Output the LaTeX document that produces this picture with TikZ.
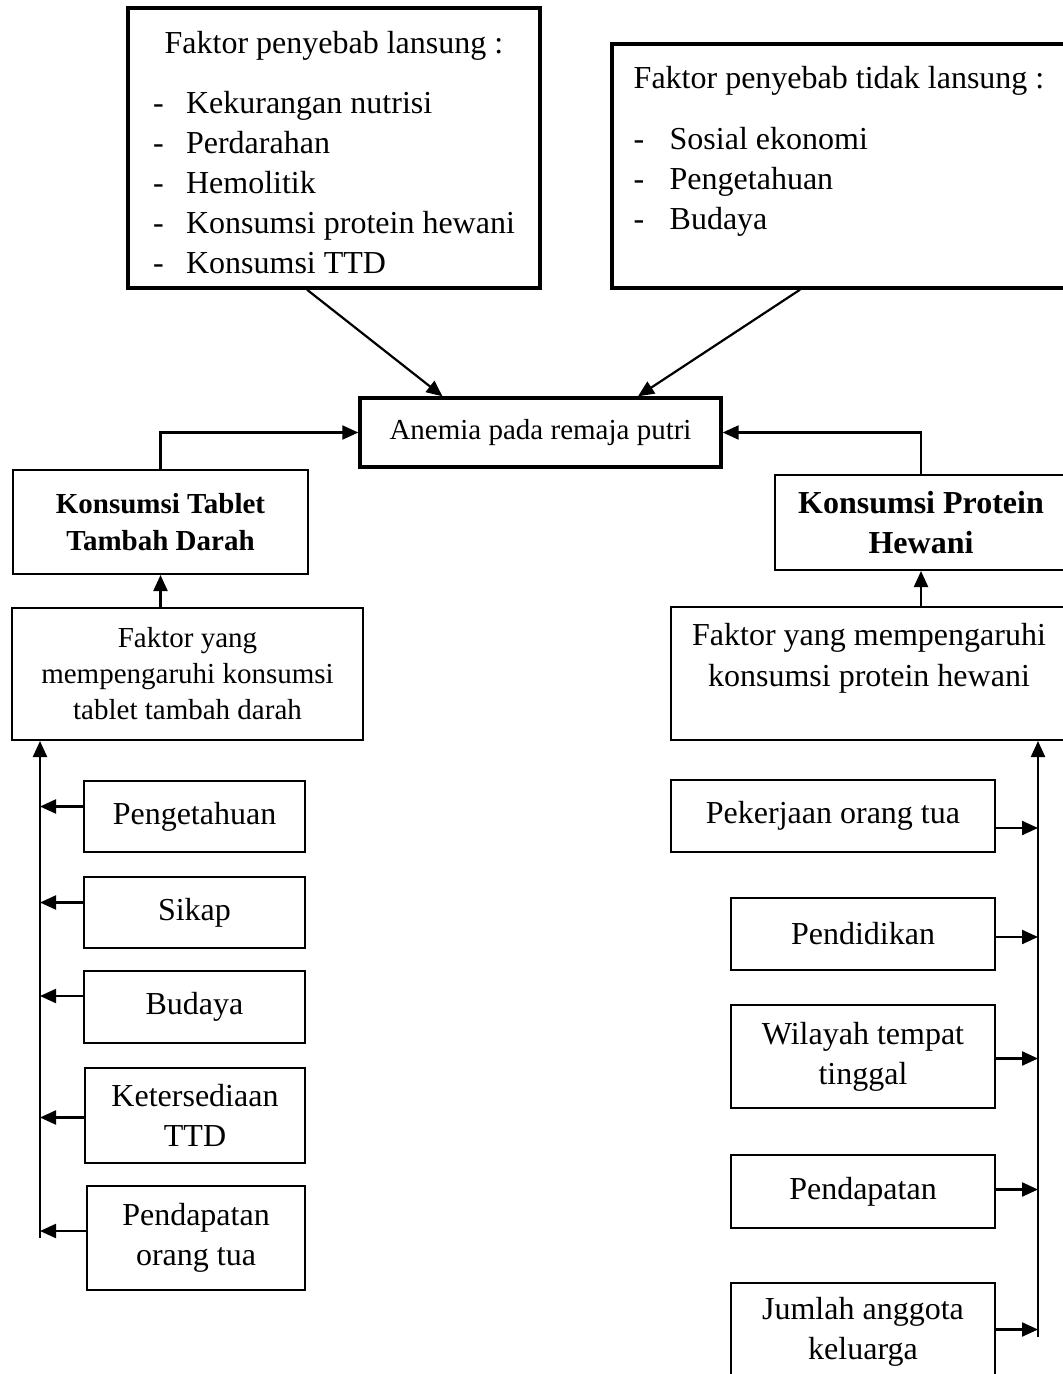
\documentclass[tikz,border=0pt]{standalone}
\usepackage{fontspec}
\setmainfont{Liberation Serif}
\usetikzlibrary{arrows.meta}

\begin{document}
\begin{tikzpicture}[x=0.5pt,y=-0.5pt,
  box/.style={draw=drawColor,line width=1pt,rectangle,inner sep=0pt,align=center,font=\fontsize{16}{20}\selectfont},
  heavybox/.style={box,line width=1.7pt},
  smallfont/.style={font=\fontsize{14.5}{18}\selectfont},
  conn/.style={draw=drawColor,line width=1.1pt,-{Triangle[length=8pt,width=7pt]}}]
\definecolor{drawColor}{RGB}{0,0,0}
\path[use as bounding box] (0,0) rectangle (1063,1374);
\clip (0,0) rectangle (1063,1374);

\node[heavybox,minimum width=206pt,minimum height=140pt] (langsung) at (334,148) {\rule{0pt}{21.5pt}Faktor penyebab lansung :\\[11.5pt]\begin{tabular}{@{}p{16.5pt}@{}l@{}}-&Kekurangan nutrisi\\-&Perdarahan\\-&Hemolitik\\-&Konsumsi protein hewani\\-&Konsumsi TTD\end{tabular}};
\node[heavybox,align=left,minimum width=227pt,minimum height=122pt] (tidak) at (839,166) {\rule{0pt}{19pt}Faktor penyebab tidak lansung :\\[12pt]\begin{tabular}{@{}p{18pt}@{}l@{}}-&Sosial ekonomi\\-&Pengetahuan\\-&Budaya\\&\end{tabular}};
\node[heavybox,smallfont,minimum width=180.5pt,minimum height=34.5pt] (anemia) at (540.5,432.5) {Anemia pada remaja putri};

\node[box,font=\fontsize{14.5}{18.5}\selectfont\bfseries,minimum width=147.5pt,minimum height=52pt] (ttd) at (160.5,522) {Konsumsi Tablet\\Tambah Darah};
\node[box,font=\fontsize{16}{20}\selectfont\bfseries,minimum width=146pt,minimum height=47.5pt] (protein) at (921,522.5) {Konsumsi Protein\\Hewani};
\node[box,smallfont,minimum width=175.5pt,minimum height=66pt] (faktorttd) at (187.5,674) {Faktor yang\\mempengaruhi konsumsi\\tablet tambah darah};
\node[box,font=\fontsize{16}{20.5}\selectfont,minimum width=198pt,minimum height=66.5pt] (faktorprot) at (869,673.5) {Faktor yang mempengaruhi\\konsumsi protein hewani\rule[-19pt]{0pt}{1pt}};

\node[box,minimum width=110.5pt,minimum height=35.5pt] (pengetahuan) at (194.5,816.5) {Pengetahuan};
\node[box,minimum width=110.5pt,minimum height=35.5pt] (sikap) at (194.5,912.5) {Sikap};
\node[box,minimum width=110.5pt,minimum height=36pt] (budaya) at (194.5,1007) {Budaya};
\node[box,minimum width=110pt,minimum height=47.5pt] (ketersediaan) at (195,1115.5) {Ketersediaan\\TTD};
\node[box,minimum width=109pt,minimum height=52pt] (pendapatanot) at (196,1238) {Pendapatan\\orang tua};

\node[box,minimum width=162pt,minimum height=36pt] (pekerjaan) at (833,816) {Pekerjaan orang tua};
\node[box,minimum width=132pt,minimum height=36pt] (pendidikan) at (863,934) {Pendidikan};
\node[box,minimum width=132pt,minimum height=51.5pt] (wilayah) at (863,1056.5) {Wilayah tempat\\tinggal};
\node[box,minimum width=132pt,minimum height=36.5pt] (pendapatan) at (863,1191.5) {Pendapatan};
\node[box,minimum width=132pt,minimum height=48.5pt] (jumlah) at (863,1331.5) {Jumlah anggota\\keluarga};

\coordinate (busL) at (40,1238);
\coordinate (busR) at (1038,1337);

\draw[conn] ([xshift=-13.5pt]langsung.south) -- ([xshift=-49pt]anemia.north);
\draw[conn] ([xshift=-19.5pt]tidak.south) -- ([xshift=48.75pt]anemia.north);
\draw[conn] (ttd.north) |- (anemia.west);
\draw[conn] (protein.north) |- (anemia.east);
\draw[conn] (ttd.south |- faktorttd.north) -- (ttd.south);
\draw[conn] (protein.south |- faktorprot.north) -- (protein.south);

\draw[conn] (busL) -- (busL |- faktorttd.south);
\foreach \n/\s in {pengetahuan/5pt,sikap/5pt,budaya/5.5pt,ketersediaan/-1pt,pendapatanot/3.5pt}{
  \path ([yshift=\s]\n.west) coordinate (tmp);
  \draw[conn] (tmp) -- (tmp -| busL);
}
\draw[conn] (busR) -- (busR |- faktorprot.south);
\foreach \n/\s in {pekerjaan/-6pt,pendidikan/-1.5pt,wilayah/-1pt,pendapatan/1pt,jumlah/1pt}{
  \path ([yshift=\s]\n.east) coordinate (tmp);
  \draw[conn] (tmp) -- (tmp -| busR);
}
\end{tikzpicture}
\end{document}
